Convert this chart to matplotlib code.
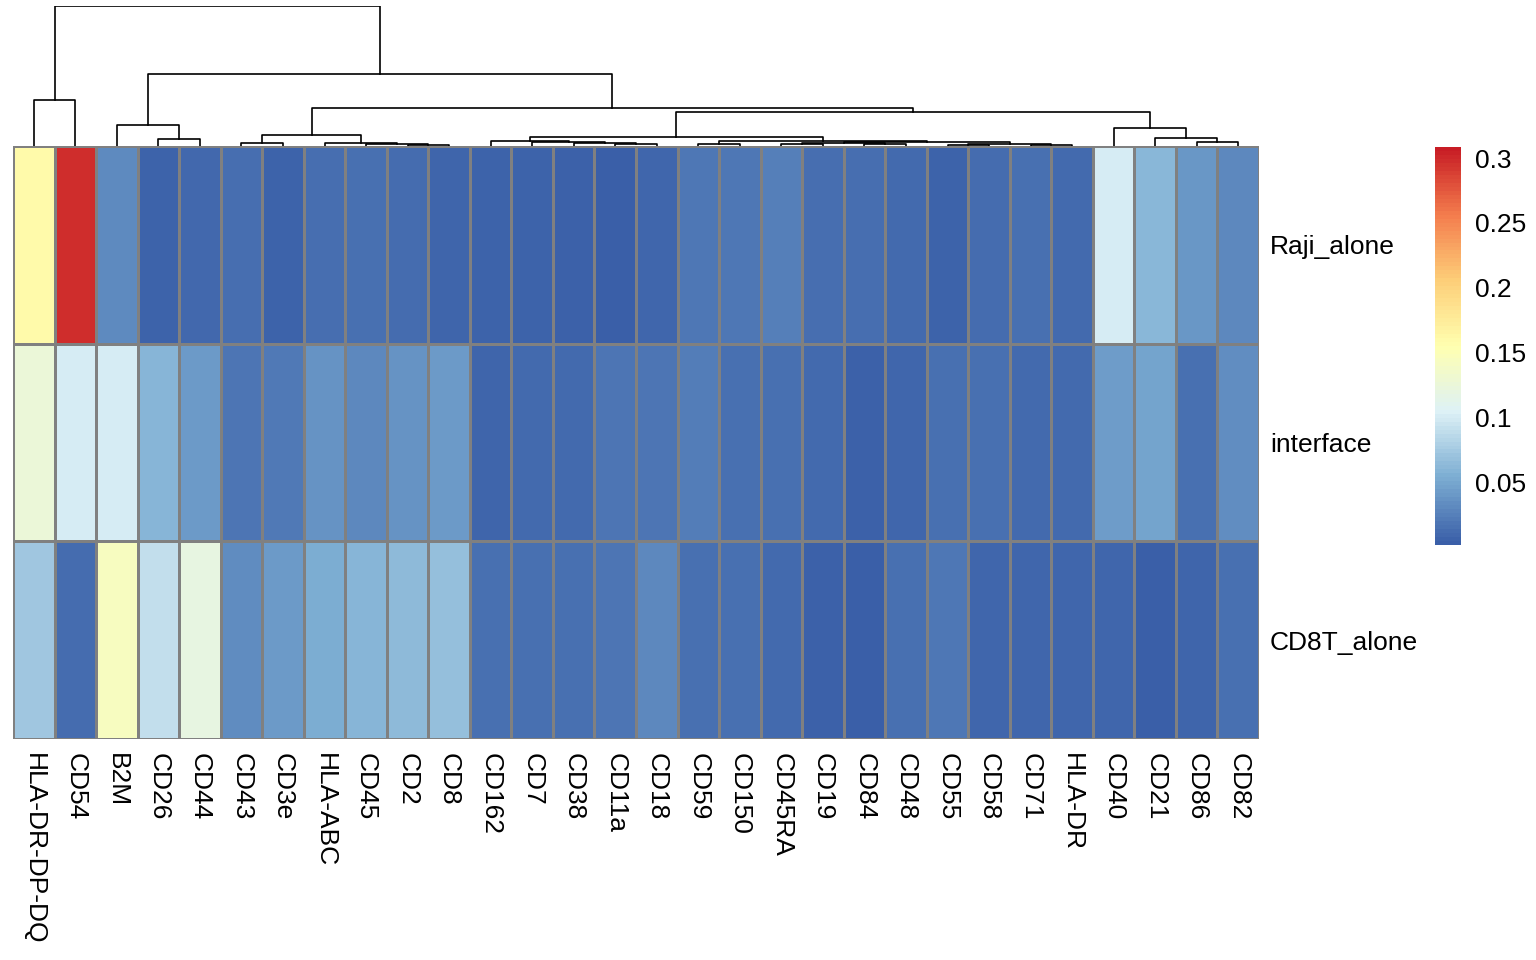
import matplotlib.pyplot as plt
import matplotlib.colors as mcolors
import numpy as np

plt.rcParams['font.family'] = ['Liberation Sans', 'DejaVu Sans']


def main():
    markers = ['HLA-DR-DP-DQ', 'CD54', 'B2M', 'CD26', 'CD44', 'CD43', 'CD3e', 'HLA-ABC',
               'CD45', 'CD2', 'CD8', 'CD162', 'CD7', 'CD38', 'CD11a', 'CD18', 'CD59',
               'CD150', 'CD45RA', 'CD19', 'CD84', 'CD48', 'CD55', 'CD58', 'CD71',
               'HLA-DR', 'CD40', 'CD21', 'CD86', 'CD82']
    rows = ['Raji_alone', 'interface', 'CD8T_alone']
    values = np.array([
        [0.16, 0.30, 0.030, 0.004, 0.008, 0.012, 0.004, 0.012, 0.013, 0.010, 0.005,
         0.004, 0.004, 0.003, 0.002, 0.007, 0.017, 0.017, 0.022, 0.012, 0.012, 0.009,
         0.004, 0.010, 0.013, 0.009, 0.100, 0.060, 0.038, 0.028],
        [0.125, 0.100, 0.100, 0.058, 0.040, 0.016, 0.019, 0.036, 0.028, 0.036, 0.040,
         0.005, 0.009, 0.009, 0.016, 0.016, 0.021, 0.013, 0.013, 0.009, 0.003, 0.007,
         0.013, 0.013, 0.009, 0.009, 0.042, 0.046, 0.013, 0.032],
        [0.072, 0.010, 0.143, 0.090, 0.120, 0.031, 0.040, 0.052, 0.058, 0.062, 0.066,
         0.013, 0.013, 0.013, 0.016, 0.028, 0.013, 0.013, 0.009, 0.003, 0.002, 0.013,
         0.017, 0.007, 0.007, 0.007, 0.007, 0.002, 0.005, 0.013]])
    # column tree as nested (left, right, height), leaves are column indices
    hla = (0, 1, 46)
    b2m = (2, (3, 4, 7), 21)
    cd43 = ((5, 6, 3), (7, (8, (9, 10, 1), 2), 3), 11)
    g1 = (11, (12, (13, (14, 15, 2), 3), 4), 5)
    g2 = ((16, 17, 2), (((18, 19, 2), (20, 21, 2), 3), ((22, 23, 1), (24, 25, 1), 2), 4), 5)
    cd40 = (26, (27, (28, 29, 4), 8), 18)
    right = ((g1, g2, 9), cd40, 34)
    tree = (hla, (b2m, (cd43, right, 38), 71), 139)
    plot_heatmap(values, rows, markers, tree)


def draw_tree(ax, node):
    # returns (x centre, height) of a node after drawing it
    if isinstance(node, int):
        return node + 0.5, 0
    left, right, h = node
    xl, hl = draw_tree(ax, left)
    xr, hr = draw_tree(ax, right)
    ax.plot([xl, xl, xr, xr], [hl, h, h, hr], color='black', lw=1.2)
    return (xl + xr) / 2, h


def plot_heatmap(values, rows, markers, tree):
    W, H = 1536, 960
    fig = plt.figure(figsize=(W / 100, H / 100), dpi=100)
    cmap = mcolors.LinearSegmentedColormap.from_list(
        'pheat', ['#3A5FA8', '#7DAED3', '#DDF1F6', '#FFFFB0', '#FDCE78', '#F47D4D', '#C81D25'])
    vmin, vmax = 0.0014, 0.3085

    ax = fig.add_axes([13 / W, (H - 739) / H, 1246 / W, 593 / H])
    ax.pcolormesh(values, cmap=cmap, vmin=vmin, vmax=vmax, edgecolors='grey', linewidth=1)
    ax.set_xlim(0, len(markers))
    ax.set_ylim(len(rows), 0)
    for s in ax.spines.values():
        s.set_visible(False)
    ax.set_xticks(np.arange(len(markers)) + 0.5)
    ax.set_xticklabels(markers, rotation=-90, fontsize=19)
    ax.set_yticks(np.arange(len(rows)) + 0.5)
    ax.set_yticklabels(rows, fontsize=19)
    ax.yaxis.tick_right()
    ax.tick_params(axis='y', length=0, pad=8)
    ax.tick_params(axis='x', length=0, pad=10)

    dax = fig.add_axes([13 / W, (H - 146) / H, 1246 / W, 140 / H])
    draw_tree(dax, tree)
    dax.set_xlim(0, len(markers))
    dax.set_ylim(0, 139)
    dax.axis('off')

    cax = fig.add_axes([1435 / W, (H - 545) / H, 26 / W, 398 / H])
    grad = np.linspace(vmin, vmax, 100).reshape(-1, 1)
    cax.pcolormesh([0, 1], np.linspace(vmin, vmax, 101), grad, cmap=cmap, vmin=vmin, vmax=vmax)
    cax.set_ylim(vmin, vmax)
    cax.set_xticks([])
    cax.set_yticks([0.05, 0.1, 0.15, 0.2, 0.25, 0.3])
    cax.set_yticklabels(['0.05', '0.1', '0.15', '0.2', '0.25', '0.3'], fontsize=19)
    cax.yaxis.tick_right()
    cax.tick_params(length=0, pad=10)
    for s in cax.spines.values():
        s.set_visible(False)

    fig.savefig('out.png', dpi=100)


if __name__ == '__main__':
    main()
